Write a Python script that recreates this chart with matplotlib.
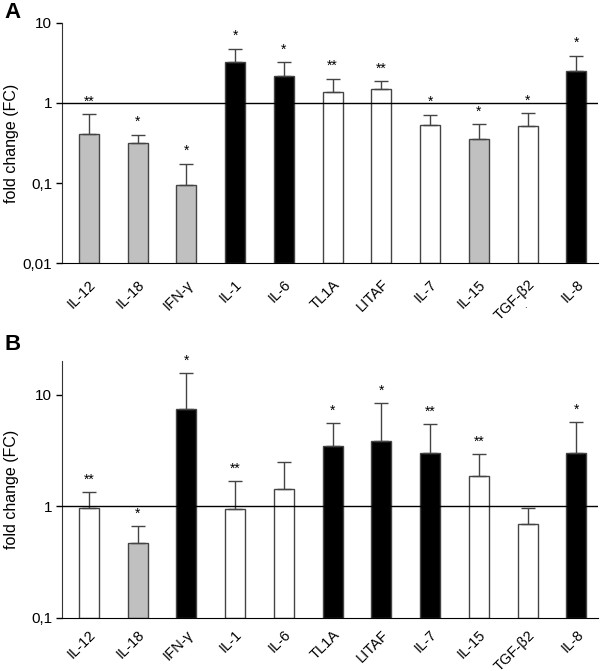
import numpy as np
import matplotlib
matplotlib.use("Agg")
import matplotlib.pyplot as plt

plt.rcParams['font.family'] = ['Liberation Sans', 'DejaVu Sans']

genes_a = ["IL-12", "IL-18", "IFN-γ", "IL-1", "IL-6", "TL1A", "LITAF", "IL-7", "IL-15", "TGF-β2", "IL-8"]
fc_a = [0.41, 0.316, 0.094, 3.2, 2.16, 1.37, 1.51, 0.53, 0.35, 0.52, 2.47]
upper_a = [0.72, 0.40, 0.175, 4.73, 3.2, 2.0, 1.85, 0.71, 0.54, 0.74, 3.87]
stars_a = ["**", "*", "*", "*", "*", "**", "**", "*", "*", "*", "*"]
fill_a = ["gray", "gray", "gray", "black", "black", "white", "white", "white", "gray", "white", "black"]

genes_b = ["IL-12", "IL-18", "IFN-γ", "IL-1", "IL-6", "TL1A", "LITAF", "IL-7", "IL-15", "TGF-β2", "IL-8"]
fc_b = [0.97, 0.47, 7.5, 0.94, 1.42, 3.5, 3.86, 3.02, 1.86, 0.70, 2.98]
upper_b = [1.33, 0.66, 15.5, 1.67, 2.48, 5.55, 8.35, 5.43, 2.94, 0.96, 5.7]
stars_b = ["**", "*", "*", "**", "", "*", "*", "**", "**", "", "*"]
fill_b = ["white", "gray", "black", "white", "white", "black", "black", "black", "white", "white", "black"]

colors = {"gray": "#c0c0c0", "black": "#000000", "white": "#ffffff"}


def draw_panel(ax, genes, fc, upper, stars, fill, ylim, ticks, ticklabels, pad):
    x = np.arange(len(genes))
    fc = np.array(fc)
    upper = np.array(upper)
    ax.set_yscale("log")
    # bars start at the axis floor
    ax.bar(x, fc - ylim[0], width=0.41, bottom=ylim[0],
           color=[colors[f] for f in fill], edgecolor="#444444", linewidth=1.0, zorder=2)
    ax.errorbar(x, fc, yerr=[np.zeros_like(fc), upper - fc], fmt="none",
                ecolor="#444444", elinewidth=1.0, capsize=5, capthick=1.0, zorder=3)
    ax.axhline(1, color="black", lw=1.0, zorder=4)
    for xi, u, s in zip(x, upper, stars):
        if s:
            ax.annotate(s, (xi, u), xytext=(0, 4), textcoords="offset points",
                        ha="center", va="bottom", fontsize=10)
    ax.set_ylim(*ylim)
    ax.set_xlim(-0.55, len(genes) - 0.55)
    ax.set_yticks(ticks)
    ax.set_yticklabels(ticklabels, fontsize=11)
    ax.yaxis.set_minor_locator(matplotlib.ticker.NullLocator())
    ax.set_xticks(x)
    ax.set_xticklabels(genes, rotation=45, ha="right", rotation_mode="anchor", fontsize=10.5)
    ax.tick_params(axis="x", length=0, pad=pad)
    ax.tick_params(axis="y", length=4, width=1, pad=3)
    ax.spines["top"].set_visible(False)
    ax.spines["right"].set_visible(False)
    ax.spines["left"].set_color("#333333")
    ax.spines["bottom"].set_color("black")
    ax.set_ylabel("fold change (FC)", fontsize=11.5, va="center")
    ax.yaxis.set_label_coords(-0.095, 0.5)


fig = plt.figure(figsize=(6.0, 6.71), dpi=100)
ax_a = fig.add_axes([0.1033, 0.6076, 0.8937, 0.3586])
ax_b = fig.add_axes([0.1033, 0.079, 0.8937, 0.383])

draw_panel(ax_a, genes_a, fc_a, upper_a, stars_a, fill_a, (0.01, 10),
           [0.01, 0.1, 1, 10], ["0,01", "0,1", "1", "10"], 10)
draw_panel(ax_b, genes_b, fc_b, upper_b, stars_b, fill_b, (0.1, 20),
           [0.1, 1, 10], ["0,1", "1", "10"], 7)

fig.text(0.008, 0.982, "A", fontsize=16, fontweight="bold", va="center", ha="left")
fig.text(0.008, 0.486, "B", fontsize=16, fontweight="bold", va="center", ha="left")
# stray speck under the TGF-β2 label in panel A
fig.text(0.875, 0.545, ".", fontsize=7, ha="center", va="center")

fig.savefig("out.png", dpi=100)
